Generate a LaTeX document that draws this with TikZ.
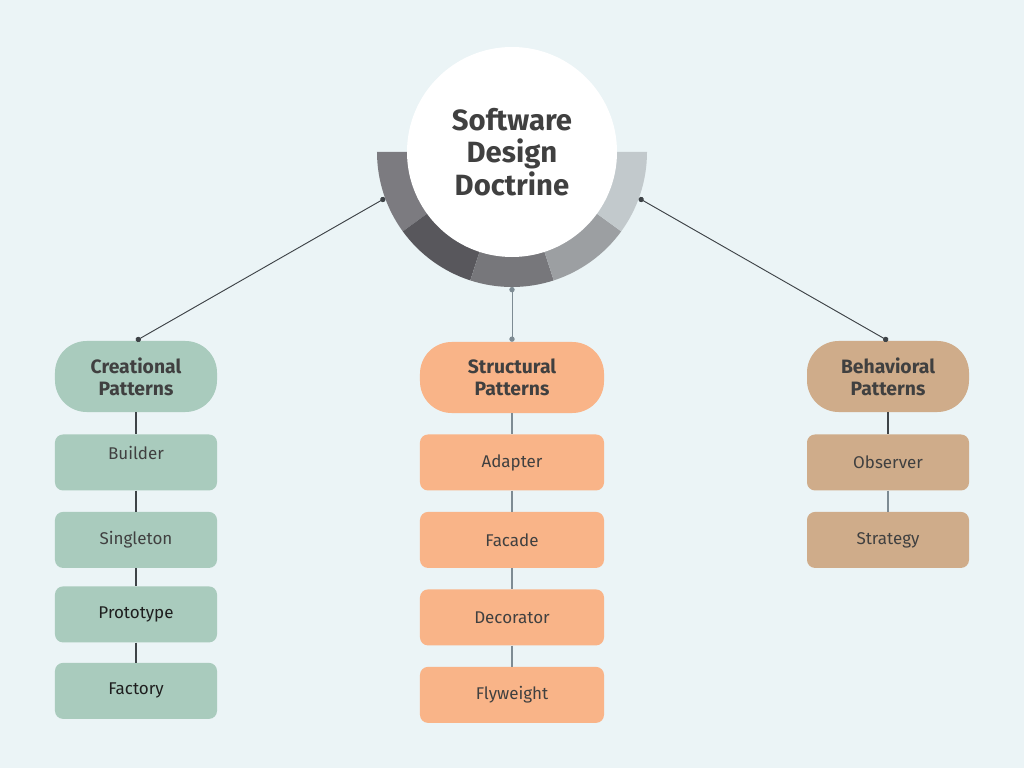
\documentclass[tikz,border=0pt]{standalone}
\usepackage{fontspec}
\setmainfont{Fira Sans}
\usepackage{xcolor}
\definecolor{canvas}{HTML}{EBF4F6}
\definecolor{mint}{HTML}{A9CBBD}
\definecolor{peach}{HTML}{F9B488}
\definecolor{tan}{HTML}{CFAC8A}
\definecolor{ink}{HTML}{404040}
\definecolor{inkdeep}{HTML}{1E1E1E}
\definecolor{wire}{HTML}{3E4347}
\definecolor{wirelight}{HTML}{7D8B93}
\definecolor{ringA}{HTML}{7C7B80}
\definecolor{ringB}{HTML}{58575C}
\definecolor{ringC}{HTML}{77777B}
\definecolor{ringD}{HTML}{9C9FA2}
\definecolor{ringE}{HTML}{C2C9CC}
\usepackage{tikz}
\usetikzlibrary{arrows.meta, positioning, calc}

\begin{document}
\begin{tikzpicture}[x=0.03cm, y=-0.03cm,
  group/.style={rounded corners=0.95cm, minimum width=4.86cm, minimum height=2.13cm,
        inner sep=0pt, align=center, text=ink,
        font=\bfseries\fontsize{16.5}{19}\selectfont},
  item/.style={rounded corners=0.24cm, minimum width=4.86cm, minimum height=1.68cm,
        inner sep=0pt, text=ink, font=\fontsize{14.5}{17}\selectfont},
  tap/.style={wire, line width=0.8pt, {Circle[length=4.5pt]}-{Circle[length=4.5pt]}},
  chain/.style={wire, line width=0.9pt}]

  \fill[canvas] (0,0) rectangle (1024,768);
  \useasboundingbox (0,0) rectangle (1024,768);

  % ring behind the hub
  \coordinate (hub) at (512,152);
  \foreach \a/\col in {180/ringA, 216/ringB, 252/ringC, 288/ringD, 324/ringE}
    \fill[\col] (hub) -- ++(\a:4.05cm) arc[start angle=\a, delta angle=36, radius=4.05cm] -- cycle;

  \node[circle, fill=white, minimum size=6.3cm, inner sep=0pt, align=center, text=ink,
        font=\bfseries\fontsize{25}{27.5}\selectfont] (core) at (hub)
        {Software\\Design\\Doctrine};

  \coordinate (tapL) at ($(hub)+(-160:4.05cm)$);
  \coordinate (tapM) at ($(hub)+(-90:4.05cm)$);
  \coordinate (tapR) at ($(hub)+(-20:4.05cm)$);

  % the three families
  \node[group, fill=mint] (creational) at (136,376.5) {Creational\\Patterns};
  \node[group, fill=peach, minimum width=5.52cm] (structural) at (512,377.5) {Structural\\Patterns};
  \node[group, fill=tan] (behavioral) at (888,376.5) {Behavioral\\Patterns};

  \node[item, fill=mint, text depth=0.6cm, below=0.66cm of creational] (builder) {Builder};
  \node[item, fill=mint, below=0.63cm of builder] (singleton) {Singleton};
  \node[item, fill=mint, text=inkdeep, below=0.54cm of singleton] (prototype) {Prototype};
  \node[item, fill=mint, text=inkdeep, below=0.6cm of prototype] (factory) {Factory};

  \node[item, fill=peach, minimum width=5.52cm, below=0.63cm of structural] (adapter) {Adapter};
  \node[item, fill=peach, minimum width=5.52cm, below=0.63cm of adapter] (facade) {Facade};
  \node[item, fill=peach, minimum width=5.52cm, below=0.63cm of facade] (decorator) {Decorator};
  \node[item, fill=peach, minimum width=5.52cm, below=0.63cm of decorator] (flyweight) {Flyweight};

  \node[item, fill=tan, below=0.66cm of behavioral] (observer) {Observer};
  \node[item, fill=tan, below=0.63cm of observer] (strategy) {Strategy};

  % connectors
  \draw[tap] (tapL) -- (creational.north);
  \draw[tap, wirelight] (tapM) -- (structural.north);
  \draw[tap] (tapR) -- (behavioral.north);

  \draw[chain] (creational.south) -- (builder.north);
  \draw[chain] (builder.south) -- (singleton.north);
  \draw[chain] (singleton.south) -- (prototype.north);
  \draw[chain] (prototype.south) -- (factory.north);

  \draw[chain, wirelight] (structural.south) -- (adapter.north);
  \draw[chain, wirelight] (adapter.south) -- (facade.north);
  \draw[chain, wirelight] (facade.south) -- (decorator.north);
  \draw[chain, wirelight] (decorator.south) -- (flyweight.north);

  \draw[chain] (behavioral.south) -- (observer.north);
  \draw[chain, wirelight] (observer.south) -- (strategy.north);

\end{tikzpicture}
\end{document}
